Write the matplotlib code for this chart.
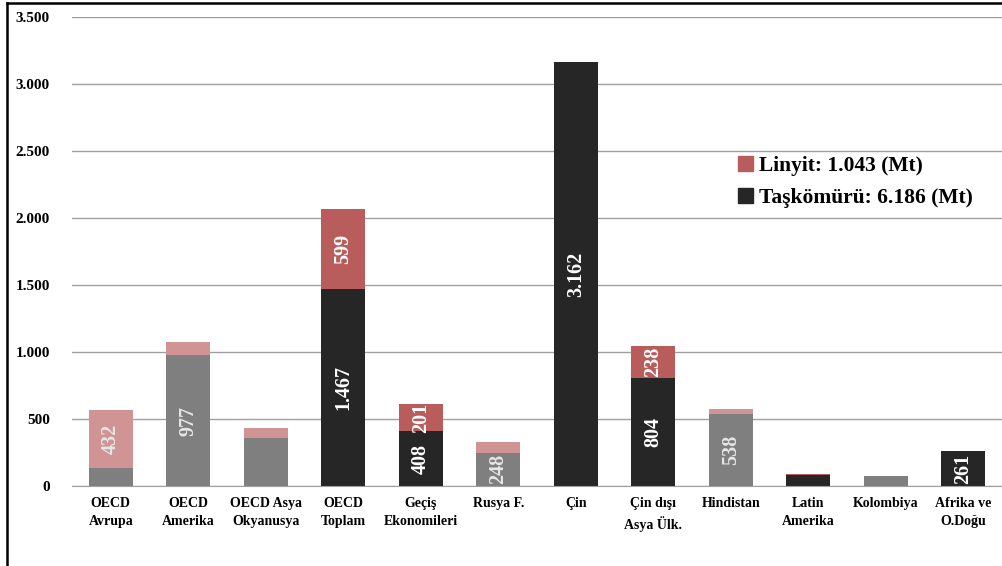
import matplotlib.pyplot as plt
import numpy as np
from matplotlib.patches import Rectangle
from matplotlib.lines import Line2D

# Kömür üretimi (Mt) - bölgelere göre
bolgeler = ['OECD\nAvrupa', 'OECD\nAmerika', 'OECD Asya\nOkyanusya', 'OECD\nToplam',
            'Geçiş\nEkonomileri', 'Rusya F.', 'Çin', 'Çin dışı\nAsya Ülk.',
            'Hindistan', 'Latin\nAmerika', 'Kolombiya', 'Afrika ve\nO.Doğu']
taskomuru = [135, 977, 360, 1467, 408, 248, 3162, 804, 538, 84, 76, 261]
linyit = [432, 97, 70, 599, 201, 78, 0, 238, 34, 5, 0, 0]
# alt kırılımlar (gri tonlu) ve toplamlar (koyu)
alt_bolge = [True, True, True, False, False, True, False, False, True, False, True, False]
tas_etiket = [None, '977', None, '1.467', '408', '248', '3.162', '804', '538', None, None, '261']
lin_etiket = ['432', None, None, '599', '201', None, None, '238', None, None, None, None]
yticks = [0, 500, 1000, 1500, 2000, 2500, 3000, 3500]
ytick_labels = ['0', '500', '1.000', '1.500', '2.000', '2.500', '3.000', '3.500']

serif = 'Liberation Serif'

fig = plt.figure(figsize=(10.03, 5.66), dpi=100)
ax = fig.add_axes([72 / 1003, 1 - 486 / 566, 930 / 1003, 469 / 566])

x = np.arange(len(bolgeler))
tas_renk = ['#7f7f7f' if a else '#262626' for a in alt_bolge]
lin_renk = ['#d09494' if a else '#b85c5c' for a in alt_bolge]
ax.bar(x, taskomuru, width=0.57, color=tas_renk, zorder=2)
ax.bar(x, linyit, width=0.57, bottom=taskomuru, color=lin_renk, zorder=2)

# çubuk içi değer etiketleri
for i in range(len(x)):
    yazi_renk = '#e6e6e6' if alt_bolge[i] else 'white'
    if tas_etiket[i]:
        ax.text(x[i], taskomuru[i] / 2, tas_etiket[i], rotation=90, ha='center', va='center',
                color=yazi_renk, fontsize=14.5, fontweight='bold', family=serif, zorder=3)
    if lin_etiket[i]:
        ax.text(x[i], taskomuru[i] + linyit[i] / 2, lin_etiket[i], rotation=90,
                ha='center', va='center', color=yazi_renk, fontsize=14.5,
                fontweight='bold', family=serif, zorder=3)

ax.set_xlim(-0.5, len(x) - 0.5)
ax.set_ylim(0, 3500)
ax.set_yticks(yticks)
ax.set_yticklabels(ytick_labels, fontsize=11, fontweight='bold', family=serif)
ax.set_xticks(x)
ax.set_xticklabels(bolgeler, fontsize=10, fontweight='bold', family=serif, linespacing=1.45)
ax.tick_params(axis='x', length=0, pad=8)
ax.tick_params(axis='y', length=0, pad=16)
ax.yaxis.grid(True, color='#a0a0a0', linewidth=1, zorder=0)
ax.set_axisbelow(True)
for s in ['top', 'right', 'left']:
    ax.spines[s].set_visible(False)
ax.spines['bottom'].set_color('#a0a0a0')

# lejant
lej = [Rectangle((0, 0), 1, 1, color='#b85c5c'), Rectangle((0, 0), 1, 1, color='#262626')]
ax.legend(lej, ['Linyit: 1.043 (Mt)', 'Taşkömürü: 6.186 (Mt)'], loc='upper left',
          bbox_to_anchor=(0.695, 0.745), frameon=False, handlelength=0.7, handleheight=0.7,
          handletextpad=0.3, labelspacing=0.55,
          prop={'family': serif, 'weight': 'bold', 'size': 15.5})

# dış çerçeve (üst ve sol kenar)
fig.add_artist(Line2D([7 / 1003, 1], [1 - 3 / 566, 1 - 3 / 566], transform=fig.transFigure,
                      color='black', linewidth=1.8))
fig.add_artist(Line2D([7 / 1003, 7 / 1003], [0, 1 - 3 / 566], transform=fig.transFigure,
                      color='black', linewidth=1.8))

fig.savefig('out.png', dpi=100)
